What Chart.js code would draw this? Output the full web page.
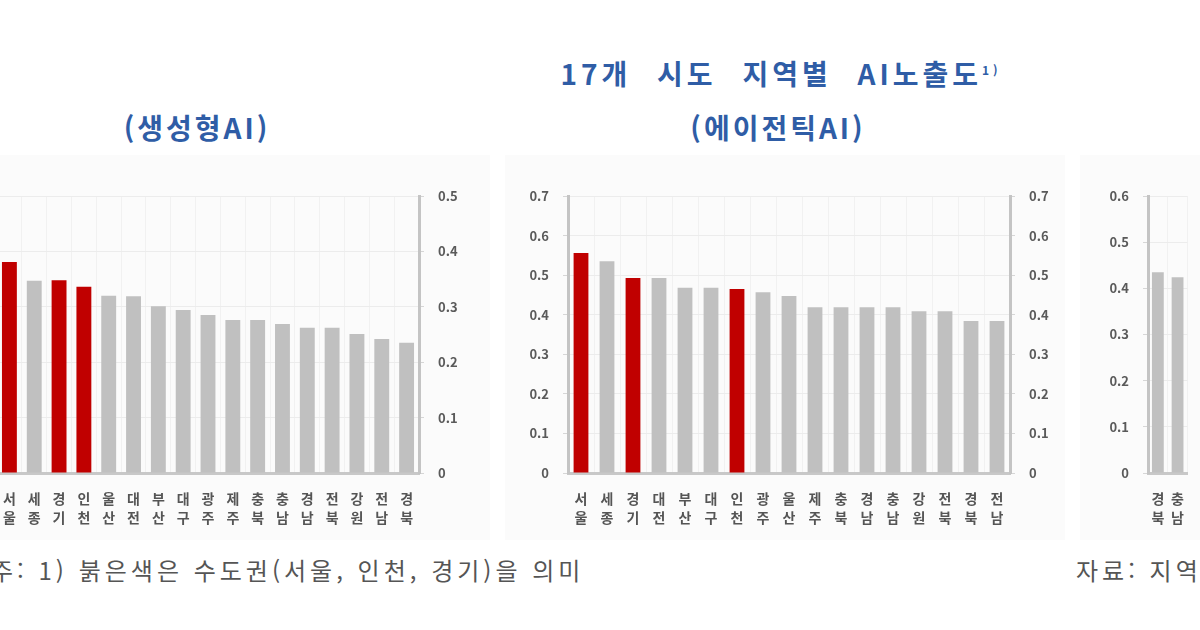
<!DOCTYPE html>
<html lang="ko">
<head>
<meta charset="utf-8">
<script src="https://cdn.jsdelivr.net/npm/chart.js@4.4.1/dist/chart.umd.min.js"></script>
<style>
  html, body { margin: 0; padding: 0; }
  body { width: 1200px; height: 630px; overflow: hidden; position: relative; background: #fff;
         font-family: 'Noto Sans CJK KR', 'Noto Sans', sans-serif; }
  .panel { position: absolute; top: 155px; height: 385px; background: #fbfbfb; }
  .panel canvas { position: absolute; top: 0; }
  .title { position: absolute; color: #2f5da6; font-weight: bold; font-size: 28px;
           white-space: nowrap; transform: translateX(-50%); letter-spacing: 3px; }
  .note { position: absolute; top: 552px; color: #555; font-size: 24px; white-space: nowrap; letter-spacing: 4px; }
  sup { font-size: 12px; }
</style>
</head>
<body>
<div class="title" style="left:781px; top:53px; letter-spacing:4px; word-spacing:14px;">17개 시도 지역별 AI노출도<sup>1)</sup></div>
<div class="title" style="left:197px; top:107px;">(생성형AI)</div>
<div class="title" style="left:778px; top:107px;">(에이전틱AI)</div>

<div class="panel" style="left:0; width:490px; overflow:hidden;">
  <canvas id="genAI" width="550" height="385" style="left:-60px;"></canvas>
</div>
<div class="panel" style="left:505px; width:560px;">
  <canvas id="agentAI" width="560" height="385" style="left:0;"></canvas>
</div>
<div class="panel" style="left:1080px; width:120px;">
  <canvas id="thirdAI" width="120" height="385" style="left:0;"></canvas>
</div>

<div class="note" style="left:-9px;">주: 1) 붉은색은 수도권(서울, 인천, 경기)을 의미</div>
<div class="note" style="left:1076px;">자료: 지역별고용조사</div>

<script>
// regions and values
const genRegions = ['서울', '세종', '경기', '인천', '울산', '대전', '부산', '대구', '광주',
                    '제주', '충북', '충남', '경남', '전북', '강원', '전남', '경북'];
const genValues = [0.381, 0.347, 0.348, 0.336, 0.320, 0.319, 0.301, 0.294, 0.285,
                   0.276, 0.276, 0.269, 0.262, 0.262, 0.251, 0.242, 0.235];
const genTicks = [0, 0.1, 0.2, 0.3, 0.4, 0.5];

const agentRegions = ['서울', '세종', '경기', '대전', '부산', '대구', '인천', '광주', '울산',
                      '제주', '충북', '경남', '충남', '강원', '전북', '경북', '전남'];
const agentValues = [0.556, 0.535, 0.493, 0.493, 0.468, 0.468, 0.465, 0.457, 0.447,
                     0.419, 0.419, 0.419, 0.419, 0.409, 0.409, 0.384, 0.384];
const agentTicks = [0, 0.1, 0.2, 0.3, 0.4, 0.5, 0.6, 0.7];

// third panel is cut off by the frame, only two bars show
const thirdRegions = ['경북', '충남'];
const thirdValues = [0.435, 0.424];
const thirdTicks = [0, 0.1, 0.2, 0.3, 0.4, 0.5, 0.6];

const capitalArea = ['서울', '인천', '경기'];

Chart.defaults.font.family = "'Noto Sans CJK KR', 'Noto Sans', sans-serif";
Chart.defaults.color = '#666';

function barColors(regions) {
    return regions.map(r => capitalArea.includes(r) ? '#c00000' : '#c0c0c0');
}

function yAxis(position, ticks, width) {
    const max = ticks[ticks.length - 1];
    return {
        position: position,
        min: 0,
        max: max,
        afterBuildTicks: axis => { axis.ticks = ticks.map(v => ({ value: v })); },
        afterFit: axis => { axis.width = width; },
        ticks: {
            padding: 14,
            font: { size: 13, weight: 'bold' },
            color: '#5a5a5a',
            callback: v => v === 0 ? '0' : v.toFixed(1)
        },
        grid: {
            drawOnChartArea: position === 'left',
            color: '#ececec',
            tickLength: 5,
            tickColor: '#d6d6d6'
        },
        border: { color: '#c4c4c4', width: 3 }
    };
}

function makeChart(id, regions, values, ticks, opts) {
    const scales = {
        x: {
            afterFit: axis => { axis.height = 67; },
            grid: { offset: true, color: '#f1f1f1', drawTicks: false },
            border: { color: '#c8c8c8', width: 3 },
            ticks: {
                padding: 16,
                maxRotation: 0,
                autoSkip: false,
                color: '#555',
                font: { size: 14, weight: 'bold', lineHeight: 1.35 }
            }
        },
        y: yAxis('left', ticks, opts.leftWidth)
    };
    if (opts.rightWidth) {
        scales.y2 = yAxis('right', ticks, opts.rightWidth);
    }
    return new Chart(document.getElementById(id), {
        type: 'bar',
        data: {
            // each name stacked vertically, one syllable per line
            labels: regions.map(r => r.split('')),
            datasets: [{
                data: values,
                backgroundColor: barColors(regions),
                categoryPercentage: 1,
                barPercentage: opts.barPct,
                yAxisID: 'y'
            }]
        },
        options: {
            responsive: false,
            animation: false,
            layout: { padding: { top: 41, left: 0, right: 0, bottom: 0 } },
            plugins: { legend: { display: false }, tooltip: { enabled: false } },
            scales: scales
        }
    });
}

makeChart('genAI', genRegions, genValues, genTicks, { leftWidth: 57, rightWidth: 71, barPct: 0.6 });
makeChart('agentAI', agentRegions, agentValues, agentTicks, { leftWidth: 63, rightWidth: 55, barPct: 0.57 });
makeChart('thirdAI', thirdRegions, thirdValues, thirdTicks, { leftWidth: 68, rightWidth: 0, barPct: 0.6 });
</script>
</body>
</html>
